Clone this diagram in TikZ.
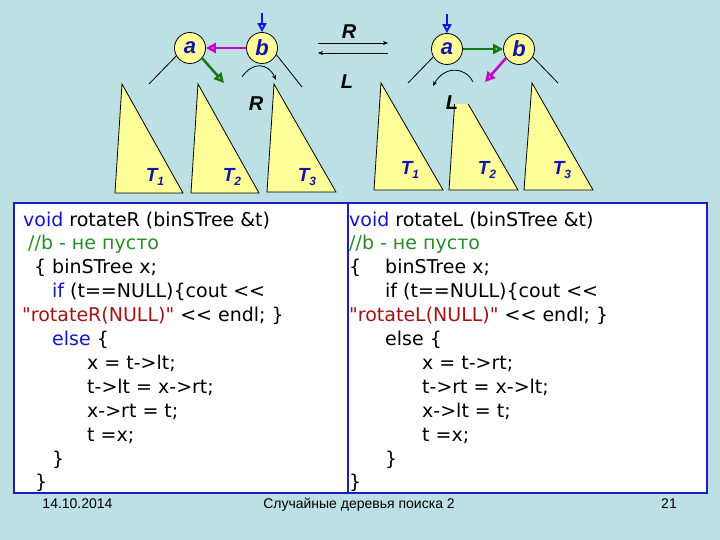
\documentclass[tikz,border=0pt]{standalone}
\usepackage{fontspec}
\setmainfont{Liberation Sans}
\newfontfamily\codefont{DejaVu Sans}
\usetikzlibrary{arrows.meta}
\definecolor{bgcol}{RGB}{188,224,227}
\definecolor{nodeblue}{RGB}{20,20,170}
\definecolor{triyel}{RGB}{255,255,153}
\definecolor{boxblue}{RGB}{30,30,190}
\definecolor{kwblue}{RGB}{20,20,200}
\definecolor{cmgreen}{RGB}{40,140,40}
\definecolor{strred}{RGB}{160,20,20}
\definecolor{ptrgreen}{RGB}{20,120,20}
\definecolor{ptrmag}{RGB}{200,0,200}
\definecolor{ptrblue}{RGB}{20,20,230}
\newcommand\codeln[4]{\node[codetxt] (#1) at (#2,{226+23.9*(#3-1)}) {#4};}
\newcommand\tsub[1]{T\raisebox{-4pt}{\fontsize{12}{12}\selectfont #1}}
\tikzset{
  circ/.style={circle, draw=black, line width=0.8pt, fill=triyel, minimum size=31pt, inner sep=0pt,
    font=\bfseries\itshape\fontsize{22}{22}\selectfont, text=nodeblue},
  tri/.style={draw=black, fill=triyel, line width=0.8pt},
  tlab/.style={font=\bfseries\itshape\fontsize{19}{19}\selectfont, text=nodeblue, fill=triyel, inner sep=1pt},
  rllab/.style={font=\bfseries\itshape\fontsize{20}{20}\selectfont, text=black, inner sep=0pt},
  codetxt/.style={anchor=base west, inner sep=0pt, font=\codefont\fontsize{19}{19}\selectfont},
  ptrm/.style={draw=ptrmag, line width=2.5pt, -{Triangle[open, length=10pt, width=10pt]}},
  ptrg/.style={draw=ptrgreen, line width=2.5pt, -{Triangle[open, length=10pt, width=10pt]}},
  ptrb/.style={draw=ptrblue, line width=2pt, -{Triangle[open, length=9pt, width=9pt]}},
  edge/.style={draw=black, line width=0.8pt},
  rot/.style={draw=black, line width=0.8pt, -{Stealth[length=5pt, width=4pt]}},
  boxln/.style={draw=boxblue, line width=1.3pt, fill=white},
  foot/.style={anchor=base, inner sep=0pt, font=\fontsize{14}{14}\selectfont, text=black}
}
\begin{document}
\begin{tikzpicture}[x=1pt, y=-1pt]
\fill[bgcol] (0,0) rectangle (720,540);
\useasboundingbox (0,0) rectangle (720,540);

% ---------- left tree ----------
\draw[tri] (115,193) -- (122,84) -- (183,193) -- cycle;
\draw[tri] (191,193) -- (198,84) -- (259,193) -- cycle;
\draw[tri] (267,192) -- (274,84) -- (336,192) -- cycle;
\node[tlab] (lt1) at (155,177) {\tsub{1}};
\node[tlab] (lt2) at (232,177) {\tsub{2}};
\node[tlab] (lt3) at (307,177) {\tsub{3}};

\node[circ] (la) at (190,48) {a};
\node[circ] (lb) at (262,48) {b};
\coordinate (lbt) at (262,13);
\coordinate (lae) at (149,84);
\coordinate (lbe) at (302,87);
\coordinate (lge) at (224,83);
\coordinate (larc1) at (242,77);
\coordinate (larc2) at (276,80);
\draw[edge] (la.-150) -- (lae);
\draw[edge] (lb.-25) -- (lbe);
\draw[ptrb] (lbt) -- (lb.north);
\draw[ptrm] (lb.west) -- (la.east);
\draw[ptrg] (la.-40) -- (lge);
\draw[rot] (larc1) .. controls (252,62) and (268,62) .. (larc2);
\node[rllab] (lR) at (256,104) {R};

% ---------- middle ----------
\node[rllab] (mR) at (349,32) {R};
\node[rllab] (mL) at (347,82) {L};
\coordinate (m1) at (318,43);
\coordinate (m2) at (388,43);
\coordinate (m3) at (388,53);
\coordinate (m4) at (318,53);
\draw[rot, line width=0.6pt] (m1) -- (m2);
\draw[rot, line width=0.6pt] (m3) -- (m4);

% ---------- right tree ----------
\draw[tri] (374,190) -- (381,83) -- (443,190) -- cycle;
\draw[tri] (449,190) -- (456,83) -- (518,190) -- cycle;
\draw[tri] (524,190) -- (532,83) -- (593,190) -- cycle;
\node[tlab] (rt1) at (410,170) {\tsub{1}};
\node[tlab] (rt2) at (487,170) {\tsub{2}};
\node[tlab] (rt3) at (562,170) {\tsub{3}};
\fill[bgcol] (438,81) rectangle (473,104);

\node[circ] (ra) at (447,49) {a};
\node[circ] (rb) at (519,49) {b};
\coordinate (rat) at (447,14);
\coordinate (rae) at (408,83);
\coordinate (rbe) at (558,83);
\coordinate (rme) at (485,82);
\coordinate (rarc1) at (473,82);
\coordinate (rarc2) at (433,86);
\draw[edge] (ra.-150) -- (rae);
\draw[edge] (rb.-30) -- (rbe);
\draw[ptrb] (rat) -- (ra.north);
\draw[ptrg] (ra.east) -- (rb.west);
\draw[ptrm] (rb.-145) -- (rme);
\draw[rot] (rarc1) .. controls (465,66) and (444,66) .. (rarc2);
\node[rllab] (rL) at (452,103) {L};

% ---------- code boxes ----------
\draw[boxln] (14,203) rectangle (348,493);
\draw[boxln] (348,203) rectangle (707,493);

\codeln{c1}{23}{1}{\textcolor{kwblue}{void} rotateR (binSTree \&t)}
\codeln{c2}{28}{2}{\textcolor{cmgreen}{//b - не пусто}}
\codeln{c3}{34}{3}{\makebox[18pt][l]{\{}binSTree x;}
\codeln{c4}{52}{4}{\textcolor{kwblue}{if} (t==NULL)\{cout <<}
\codeln{c5}{22}{5}{\textcolor{strred}{"rotateR(NULL)"} << endl; \}}
\codeln{c6}{52}{6}{\textcolor{kwblue}{else} \{}
\codeln{c7}{87}{7}{x = t->lt;}
\codeln{c8}{87}{8}{t->lt = x->rt;}
\codeln{c9}{87}{9}{x->rt = t;}
\codeln{c10}{87}{10}{t =x;}
\codeln{c11}{52}{11}{\}}
\codeln{c12}{35}{12}{\}}

\codeln{d1}{349}{1}{\textcolor{kwblue}{void} rotateL (binSTree \&t)}
\codeln{d2}{349}{2}{\textcolor{cmgreen}{//b - не пусто}}
\codeln{d3}{349}{3}{\makebox[36pt][l]{\{}binSTree x;}
\codeln{d4}{385}{4}{if (t==NULL)\{cout <<}
\codeln{d5}{349}{5}{\textcolor{strred}{"rotateL(NULL)"} << endl; \}}
\codeln{d6}{385}{6}{else \{}
\codeln{d7}{422}{7}{x = t->rt;}
\codeln{d8}{422}{8}{t->rt = x->lt;}
\codeln{d9}{422}{9}{x->lt = t;}
\codeln{d10}{422}{10}{t =x;}
\codeln{d11}{385}{11}{\}}
\codeln{d12}{349}{12}{\}}

% ---------- footer ----------
\node[foot] (date) at (77.5,508) {14.10.2014};
\node[foot] (title) at (359,508) {Случайные деревья поиска 2};
\node[foot] (page) at (669,508) {21};
\end{tikzpicture}
\end{document}
